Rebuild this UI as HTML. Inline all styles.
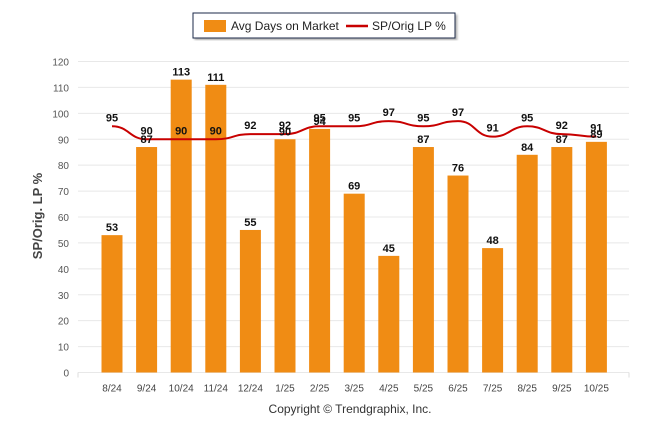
<!DOCTYPE html>
<html><head><meta charset="utf-8"><style>
body{margin:0;background:#fff;font-family:"Liberation Sans",sans-serif;}
svg text{font-family:"Liberation Sans",sans-serif;}
</style></head><body>
<svg width="646" height="434">
<defs><filter id="sh"><feDropShadow dx="2" dy="2" stdDeviation="1" flood-color="#888" flood-opacity="0.6"/></filter></defs>
<g>
<rect x="193" y="13" width="262" height="25" fill="#fff" stroke="#1a2a4a" stroke-width="1" filter="url(#sh)"/>
<rect x="204" y="20" width="22" height="12" fill="#f08c14"/>
<text x="231" y="30" font-size="12" fill="#222">Avg Days on Market</text>
<line x1="346" y1="26" x2="368" y2="26" stroke="#c80000" stroke-width="2.5"/>
<text x="372" y="30" font-size="12" fill="#222">SP/Orig LP %</text>
</g>
<text transform="translate(42,216) rotate(-90)" text-anchor="middle" font-size="13" font-weight="bold" fill="#444">SP/Orig. LP %</text>
<g id="grid"></g><g id="bars"></g><g id="line"></g><g id="labels"></g>
<text x="350" y="413" text-anchor="middle" font-size="12" fill="#333">Copyright © Trendgraphix, Inc.</text>
</svg>
<script>
const categories=["8/24","9/24","10/24","11/24","12/24","1/25","2/25","3/25","4/25","5/25","6/25","7/25","8/25","9/25","10/25"];
const daysOnMarket=[53,87,113,111,55,90,94,69,45,87,76,48,84,87,89];
const spOrigLp=[95,90,90,90,92,92,95,95,97,95,97,91,95,92,91];
const yTicks=[0,10,20,30,40,50,60,70,80,90,100,110,120];
const NS="http://www.w3.org/2000/svg";
const y0=372.5,y120=61.5,left=78,right=629,xFirst=112,step=34.6;
const Y=v=>y0-(v/120)*(y0-y120);
const X=i=>xFirst+i*step;
function mk(t,a,p){const e=document.createElementNS(NS,t);for(const k in a)e.setAttribute(k,a[k]);document.getElementById(p).appendChild(e);return e;}
yTicks.forEach(t=>{
 const l=mk('line',{x1:left,x2:right,y1:Y(t),y2:Y(t),stroke:'#e8e8e8','stroke-width':1},'grid');
 
 
 const tx=mk('text',{x:69,y:Y(t)+4,'text-anchor':'end','font-size':10,fill:'#555'},'grid');tx.textContent=t;
 
 
});
mk('line',{x1:left,x2:left,y1:y0,y2:y0+5,stroke:'#ddd'},'grid');mk('line',{x1:right,x2:right,y1:y0,y2:y0+5,stroke:'#ddd'},'grid');
categories.forEach((c,i)=>{
 const b=mk('rect',{x:X(i)-10.5,y:Y(daysOnMarket[i]),width:21,height:y0-Y(daysOnMarket[i]),fill:'#f08c14'},'bars');
 
 
 const t=mk('text',{x:X(i),y:y0+19,'text-anchor':'middle','font-size':10,fill:'#444'},'grid');t.textContent=c;
 
 
 const bl=mk('text',{x:X(i),y:Y(daysOnMarket[i])-4,'text-anchor':'middle','font-size':11,'font-weight':'bold',fill:'#111'},'labels');bl.textContent=daysOnMarket[i];
 
 
 const ll=mk('text',{x:X(i),y:Y(spOrigLp[i])-5,'text-anchor':'middle','font-size':11,'font-weight':'bold',fill:'#111'},'labels');ll.textContent=spOrigLp[i];
 
 
});
let d='M'+X(0)+','+Y(spOrigLp[0]);
for(let i=1;i<spOrigLp.length;i++){const xa=X(i-1),xb=X(i),ya=Y(spOrigLp[i-1]),yb=Y(spOrigLp[i]);const m=(xa+xb)/2;d+=` C${m},${ya} ${m},${yb} ${xb},${yb}`;}
const p=mk('path',{d:d,fill:'none',stroke:'#c80000','stroke-width':2},'line');


</script>
</body></html>
